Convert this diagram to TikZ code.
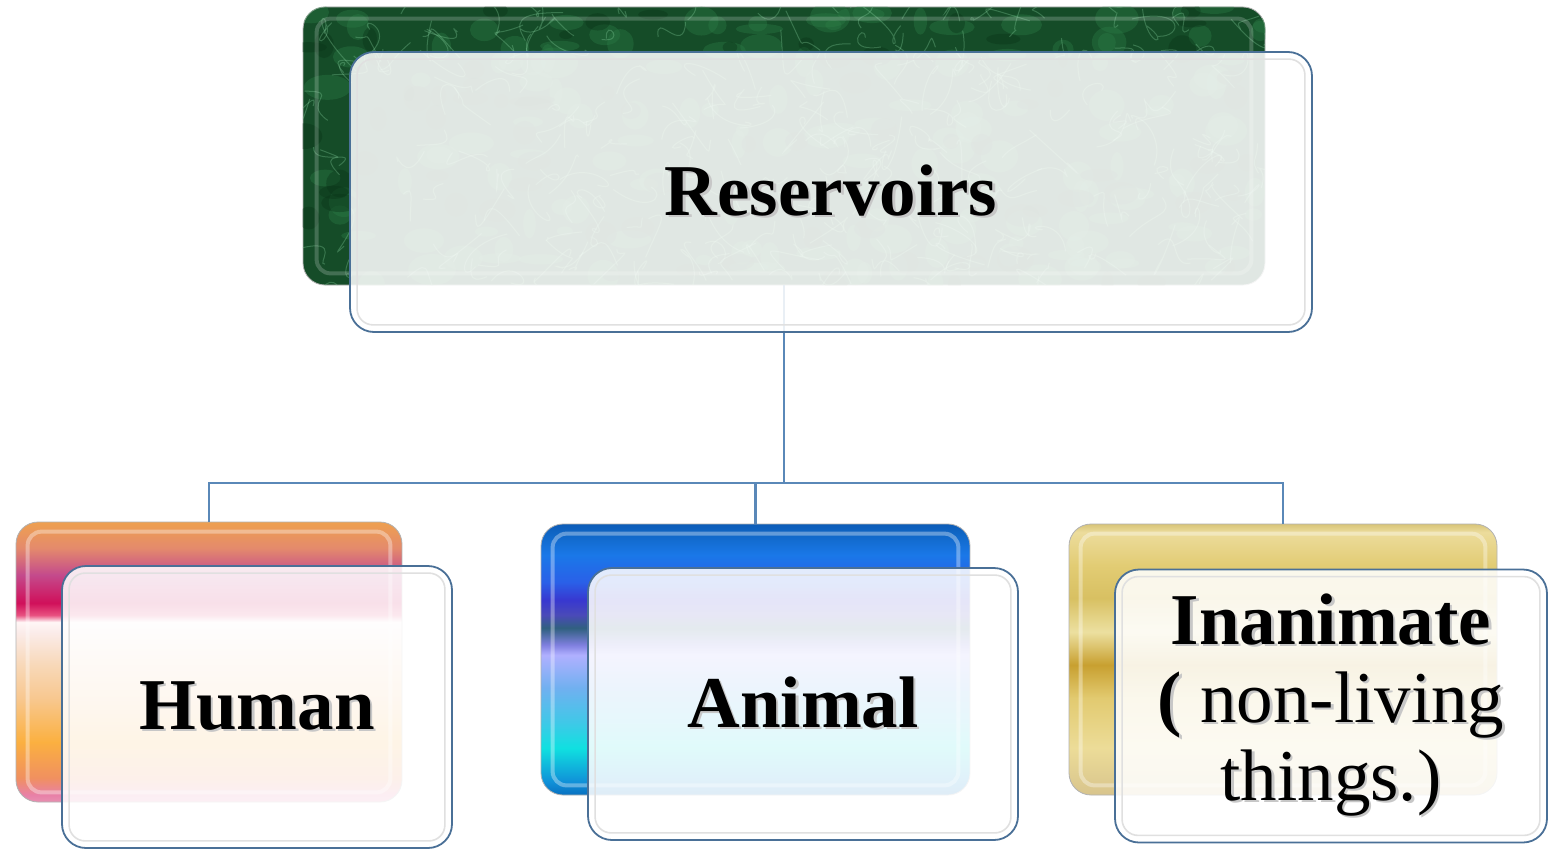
\documentclass[tikz,border=0pt]{standalone}
\usepackage{fontspec}
\setmainfont{Liberation Serif}
\usetikzlibrary{calc}
% human gradient
\definecolor{hA}{HTML}{E890B0}\definecolor{hB}{HTML}{E880A8}\definecolor{hC}{HTML}{F09060}
\definecolor{hD}{HTML}{FBB040}\definecolor{hE}{HTML}{F8C890}\definecolor{hF}{HTML}{F8D8B8}
\definecolor{hG}{HTML}{FBECEA}\definecolor{hH}{HTML}{FFF6F6}\definecolor{hI}{HTML}{E85080}
\definecolor{hJ}{HTML}{D0105A}\definecolor{hK}{HTML}{C44A8C}\definecolor{hL}{HTML}{E48A6C}
\definecolor{hM}{HTML}{EEA050}
% animal gradient
\definecolor{aA}{HTML}{0870C0}\definecolor{aB}{HTML}{1090D8}\definecolor{aC}{HTML}{10E0E0}
\definecolor{aD}{HTML}{40C8E8}\definecolor{aE}{HTML}{70B0F0}\definecolor{aF}{HTML}{B0B0FF}
\definecolor{aG}{HTML}{8080E0}\definecolor{aH}{HTML}{306080}\definecolor{aI}{HTML}{4A4AB8}
\definecolor{aJ}{HTML}{3838D0}\definecolor{aK}{HTML}{2A60E8}\definecolor{aL}{HTML}{1A78E8}
\definecolor{aM}{HTML}{1068C8}\definecolor{aN}{HTML}{0C5CB8}
% gold gradient
\definecolor{gA}{HTML}{D8C48C}\definecolor{gB}{HTML}{ECDC98}\definecolor{gC}{HTML}{E2CA70}
\definecolor{gD}{HTML}{C8A030}\definecolor{gE}{HTML}{ECE0A0}\definecolor{gF}{HTML}{D8C062}
\definecolor{gG}{HTML}{E2CC74}\definecolor{gH}{HTML}{ECDC9C}\definecolor{gI}{HTML}{D8C478}
% others
\definecolor{mdark}{HTML}{154C28}
\definecolor{mmid}{HTML}{2E8048}
\definecolor{mlight}{HTML}{8CD8A4}
\definecolor{mdeep}{HTML}{0A3418}
\definecolor{edgeblue}{HTML}{4A7097}
\definecolor{linkblue}{HTML}{5A88B8}
\pgfdeclareverticalshading{humangrad}{100bp}{color(0bp)=(hA); color(25bp)=(hA); color(26.25bp)=(hB);
 color(29.29bp)=(hC); color(35.71bp)=(hD); color(43.57bp)=(hE); color(49.46bp)=(hF);
 color(55.36bp)=(hG); color(57.14bp)=(hH); color(58.39bp)=(hI); color(60.54bp)=(hJ);
 color(65.54bp)=(hK); color(70.36bp)=(hL); color(75bp)=(hM); color(100bp)=(hM)}
\pgfdeclareverticalshading{animalgrad}{100bp}{color(0bp)=(aA); color(25bp)=(aA); color(27.4bp)=(aB);
 color(33.67bp)=(aC); color(38.47bp)=(aD); color(44.74bp)=(aE); color(50.83bp)=(aF);
 color(52.67bp)=(aG); color(55.81bp)=(aH); color(58.21bp)=(aI); color(60.98bp)=(aJ);
 color(64.3bp)=(aK); color(69.28bp)=(aL); color(72.97bp)=(aM); color(75bp)=(aN); color(100bp)=(aN)}
\pgfdeclareverticalshading{goldgrad}{100bp}{color(0bp)=(gA); color(25bp)=(gA); color(33.7bp)=(gB);
 color(42.9bp)=(gC); color(49bp)=(gD); color(55.1bp)=(gE); color(61.3bp)=(gF);
 color(67.4bp)=(gG); color(73.5bp)=(gH); color(75bp)=(gI); color(100bp)=(gI)}
\newcommand{\shtxt}[1]{\makebox[0pt][l]{\raisebox{-2pt}{\hspace{2.5pt}\textcolor{black!22}{#1}}}#1}
\begin{document}
\begin{tikzpicture}[x=1pt,y=-1pt,
  backbox/.style={inner sep=0pt, rounded corners=22pt, draw=black!30, line width=0.8pt},
  frontbox/.style={inner sep=0pt, rounded corners=24pt, draw=edgeblue, line width=1.8pt,
     fill=white, fill opacity=0.87, text opacity=1, align=center,
     font=\fontsize{73}{78}\selectfont\bfseries},
  bevel/.style={draw=white, draw opacity=0.35, line width=4pt, rounded corners=14pt},
  innerbevel/.style={draw=black!12, line width=1.6pt, rounded corners=16pt},
  link/.style={draw=linkblue, line width=2.6pt},
  marble/.style={draw=mlight, draw opacity=0.3, line width=1pt},
  marbleblot/.style={fill=mmid, fill opacity=0.35},
  marbledark/.style={fill=mdeep, fill opacity=0.4}]
\useasboundingbox (0,0) rectangle (1552,851);
\fill[white] (0,0) rectangle (1552,851);

% ---------- back boxes ----------
\node[backbox, fill=mdark, minimum width=962pt, minimum height=278pt] (tb) at (784,146) {};
\begin{scope}
  \clip[rounded corners=22pt] (tb.south west) rectangle (tb.north east);
  \pgfmathsetseed{17}
  \foreach \i in {1,...,160}{
    \pgfmathsetmacro\xa{303+962*rnd}\pgfmathsetmacro\ya{7+278*rnd}
    \pgfmathsetmacro\ra{6+18*rnd}\pgfmathsetmacro\rb{4+12*rnd}
    \fill[marbleblot] (\xa,\ya) ellipse [x radius=\ra, y radius=\rb];
  }
  \foreach \i in {1,...,80}{
    \pgfmathsetmacro\xa{303+962*rnd}\pgfmathsetmacro\ya{7+278*rnd}
    \pgfmathsetmacro\ra{5+14*rnd}\pgfmathsetmacro\rb{4+10*rnd}
    \fill[marbledark] (\xa,\ya) ellipse [x radius=\ra, y radius=\rb];
  }
  \foreach \i in {1,...,300}{
    \pgfmathsetmacro\xa{303+962*rnd}\pgfmathsetmacro\ya{7+278*rnd}
    \pgfmathsetmacro\xb{\xa+30*rand}\pgfmathsetmacro\yb{\ya+30*rand}
    \pgfmathsetmacro\xc{\xa+30*rand}\pgfmathsetmacro\yc{\ya+30*rand}
    \pgfmathsetmacro\xd{\xa+40*rand}\pgfmathsetmacro\yd{\ya+40*rand}
    \draw[marble] (\xa,\ya) .. controls (\xb,\yb) and (\xc,\yc) .. (\xd,\yd);
  }
\end{scope}
\draw[bevel, draw opacity=0.2] ([shift={(14,12)}]tb.north west) rectangle ([shift={(-14,-12)}]tb.south east);

\node[backbox, shading=humangrad, minimum width=386pt, minimum height=280pt] (hb) at (209,662) {};
\draw[bevel] ([shift={(12,10)}]hb.north west) rectangle ([shift={(-12,-10)}]hb.south east);
\node[backbox, shading=animalgrad, minimum width=429pt, minimum height=271pt] (ab) at (755.5,659.5) {};
\draw[bevel] ([shift={(12,10)}]ab.north west) rectangle ([shift={(-12,-10)}]ab.south east);
\node[backbox, shading=goldgrad, minimum width=428pt, minimum height=271pt] (gb) at (1283,659.5) {};
\draw[bevel] ([shift={(12,10)}]gb.north west) rectangle ([shift={(-12,-10)}]gb.south east);

% ---------- connectors ----------
\coordinate (hub) at (784,483);
\draw[link] (tb.south) -- (hub);
\draw[link] (hub) -| (hb.north);
\draw[link] (hub) -| (ab.north);
\draw[link] (hub) -| (gb.north);

% ---------- front boxes ----------
\node[frontbox, minimum width=962pt, minimum height=280pt] (tf) at (831,192) {\shtxt{Reservoirs}};
\draw[innerbevel] ([shift={(8,8)}]tf.north west) rectangle ([shift={(-8,-8)}]tf.south east);
\node[frontbox, minimum width=390pt, minimum height=282pt] (hf) at (257,707) {\shtxt{Human}};
\draw[innerbevel] ([shift={(8,8)}]hf.north west) rectangle ([shift={(-8,-8)}]hf.south east);
\node[frontbox, minimum width=430pt, minimum height=272pt] (af) at (803,704) {\shtxt{Animal}};
\draw[innerbevel] ([shift={(8,8)}]af.north west) rectangle ([shift={(-8,-8)}]af.south east);
\node[frontbox, minimum width=432pt, minimum height=273pt] (gf) at (1331,706) {\shtxt{Inanimate}\\ \shtxt{(\mdseries\ non-living}\\ \mdseries\shtxt{things.)}};
\draw[innerbevel] ([shift={(8,8)}]gf.north west) rectangle ([shift={(-8,-8)}]gf.south east);
\end{tikzpicture}
\end{document}
